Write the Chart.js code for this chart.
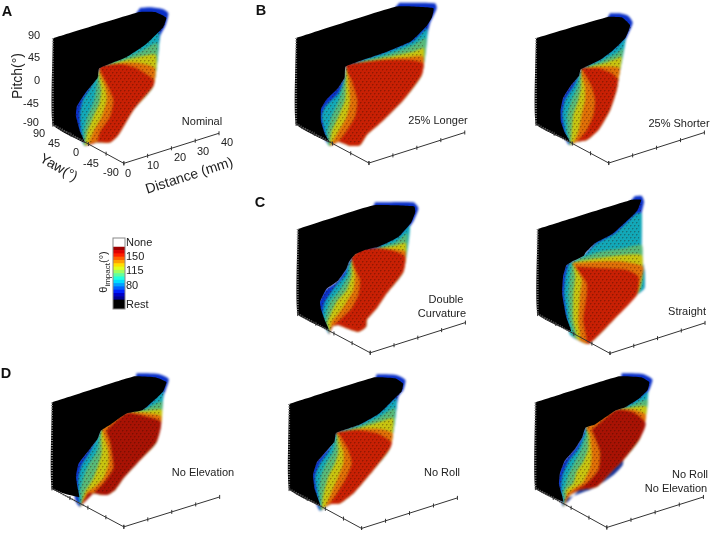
<!DOCTYPE html>
<html>
<head>
<meta charset="utf-8">
<title>Impact angle maps</title>
<script src="https://cdn.jsdelivr.net/npm/chart.js@4"></script>
<style>
  html, body { margin: 0; padding: 0; background: #fff; }
  #page { position: relative; width: 711px; height: 535px; overflow: hidden; font-family: "Liberation Sans", Arial, sans-serif; color: #222; }
  #page canvas { position: absolute; }
  #page canvas.bands { filter: blur(1.3px); }
  #page canvas.wall { filter: blur(0.35px); }
  .label { position: absolute; white-space: nowrap; font-size: 11px; line-height: 1; transform: translate(-50%, -50%); }
  .letter { font-size: 14.5px; font-weight: bold; color: #111; }
  .title { font-size: 14px; }
  .label sub { font-size: 8px; line-height: 0; }
</style>
</head>
<body>
<div id="page"></div>
<script>
// tick values of the 3D axes
const pitchTicks = [90, 45, 0, -45, -90];
const yawTicks = [90, 45, 0, -45, -90];
const distanceTicks = [0, 10, 20, 30, 40];

// colour bar
const colorbarColors = ["#00008f", "#0000c8", "#0020ff", "#0060ff", "#00a0ff", "#00dfff", "#20ffdf", "#60ff9f", "#9fff60", "#dfff20", "#ffdf00", "#ff9f00", "#ff6000", "#ff2000", "#df0000", "#9f0000"];
const colorbarSpan = 8;
const colorbarTicks = [34, 80, 115, 150, 184];
const colorbarLabels = ["Rest", "80", "115", "150", "None"];

// band colours, outermost first: blue, cyan, green, yellow, orange, red
const bandColors = ["#0a30c8", "#12a8b8", "#58b878", "#c8c410", "#e07008", "#c82004"];

// Outlines in crop units (3 units = 1 page pixel).
// corners: pitch top, pitch bottom, yaw end, distance end
const nominalCorners = [[150, 105], [150, 378], [372, 500], [670, 405]];
const nominalBlack = [[150, 105], [420, 22], [470, 22], [505, 40], [495, 70], [440, 125], [380, 165], [295, 200], [290, 230], [250, 280], [225, 320], [222, 350], [235, 400], [250, 435], [150, 378], [150, 105]];
const nominalRim = [[460, 258], [400, 330], [355, 405], [330, 427], [285, 427], [255, 437]];
const nominalTops = [
  [[420, 24], [450, 22], [490, 28], [505, 40], [497, 75], [480, 110]],
  [[300, 200], [360, 172], [440, 122], [478, 95]],
  [[300, 200], [365, 178], [420, 155], [472, 130]],
  [[300, 200], [370, 182], [420, 170], [468, 165]],
  [[300, 200], [370, 188], [420, 190], [465, 205]],
  [[298, 198], [360, 192], [410, 205], [462, 240]]
];
const nominalLefts = [
  [[235, 400], [222, 350], [225, 320], [250, 280], [290, 230], [295, 200]],
  [[250, 430], [242, 390], [240, 340], [248, 300], [270, 265], [292, 220]],
  [[250, 432], [252, 395], [262, 350], [280, 310], [288, 270], [293, 225]],
  [[256, 432], [262, 395], [280, 350], [298, 310], [303, 270], [295, 220]],
  [[265, 432], [280, 395], [305, 350], [320, 300], [315, 260], [296, 215]],
  [[290, 427], [300, 395], [330, 350], [340, 300], [320, 250], [303, 215]]
];

const longerCorners = [[160, 105], [160, 378], [388, 502], [688, 405]];
const longerBlack = [[160, 105], [475, 5], [590, 10], [585, 40], [570, 65], [520, 115], [440, 150], [315, 195], [312, 230], [290, 265], [255, 300], [238, 330], [238, 370], [250, 410], [265, 437], [160, 378], [160, 105]];
const longerRim = [[545, 225], [490, 300], [420, 370], [380, 405], [360, 435], [330, 437], [295, 425], [270, 437]];
const longerTops = [
  [[478, 8], [585, 10], [590, 25], [570, 70], [555, 140]],
  [[318, 195], [440, 155], [520, 122], [562, 85]],
  [[318, 195], [440, 165], [520, 135], [558, 115]],
  [[318, 195], [440, 172], [520, 155], [552, 145]],
  [[318, 195], [430, 178], [500, 172], [550, 170]],
  [[318, 193], [430, 180], [510, 180], [550, 190]]
];
const longerLefts = [
  [[250, 410], [237, 370], [237, 330], [255, 295], [290, 262], [312, 230], [315, 195]],
  [[265, 435], [255, 400], [245, 350], [255, 320], [295, 280], [313, 235]],
  [[265, 435], [262, 395], [275, 350], [297, 300], [313, 240]],
  [[270, 433], [275, 395], [295, 350], [315, 300], [318, 240]],
  [[275, 430], [295, 395], [320, 350], [330, 300], [325, 240]],
  [[295, 425], [315, 400], [345, 350], [352, 300], [335, 240], [322, 215]]
];

const shorterCorners = [[160, 105], [160, 378], [388, 502], [688, 405]];
const shorterBlack = [[160, 105], [385, 38], [430, 40], [455, 65], [440, 105], [400, 145], [360, 175], [300, 205], [295, 225], [270, 255], [245, 295], [237, 335], [238, 370], [250, 405], [265, 433], [160, 378], [160, 105]];
const shorterRim = [[415, 240], [410, 270], [390, 330], [355, 390], [320, 420], [290, 425], [268, 435]];
const shorterTops = [
  [[390, 40], [420, 40], [445, 48], [458, 68], [443, 105], [435, 125]],
  [[303, 205], [360, 178], [405, 145], [437, 115]],
  [[303, 205], [360, 185], [410, 160], [430, 145]],
  [[303, 205], [365, 192], [405, 178], [425, 170]],
  [[303, 205], [360, 200], [400, 200], [420, 205]],
  [[303, 203], [355, 205], [395, 220], [416, 240]]
];
const shorterLefts = [
  [[250, 405], [237, 370], [237, 335], [245, 295], [270, 255], [295, 225], [300, 205]],
  [[268, 433], [255, 395], [247, 345], [255, 300], [280, 260], [297, 225]],
  [[270, 432], [262, 395], [262, 345], [275, 300], [292, 260], [300, 225]],
  [[272, 430], [275, 395], [280, 345], [295, 300], [303, 260], [303, 225]],
  [[280, 428], [295, 395], [305, 345], [315, 300], [315, 260], [305, 225]],
  [[290, 425], [320, 390], [340, 345], [345, 300], [335, 260], [312, 215]]
];

const doubleCorners = [[165, 140], [165, 410], [392, 533], [690, 437]];
const doubleBlack = [[165, 140], [400, 65], [530, 68], [533, 85], [520, 120], [480, 165], [420, 195], [380, 205], [345, 220], [325, 245], [318, 265], [290, 305], [255, 330], [235, 370], [238, 395], [250, 430], [262, 460], [165, 410], [165, 140]];
const doubleRim = [[490, 275], [440, 340], [410, 385], [380, 420], [378, 440], [355, 455], [320, 445], [295, 435], [275, 440], [268, 462]];
const doubleTops = [
  [[405, 67], [520, 67], [535, 85], [522, 120], [505, 150]],
  [[345, 218], [420, 197], [480, 165], [510, 135]],
  [[345, 218], [420, 202], [470, 185], [502, 160]],
  [[340, 222], [410, 205], [460, 198], [498, 190]],
  [[335, 228], [410, 205], [460, 208], [497, 215]],
  [[335, 230], [365, 208], [410, 205], [460, 212], [495, 230]]
];
const doubleLefts = [
  [[250, 430], [235, 395], [235, 370], [255, 330], [290, 305], [318, 265], [325, 245], [345, 220]],
  [[268, 460], [248, 430], [248, 395], [255, 365], [285, 320], [315, 285], [325, 255]],
  [[268, 460], [255, 430], [260, 395], [270, 365], [300, 330], [325, 285], [330, 250]],
  [[270, 460], [262, 430], [275, 395], [290, 365], [320, 330], [335, 285], [335, 245]],
  [[272, 445], [275, 425], [300, 395], [320, 365], [340, 330], [345, 285], [335, 245]],
  [[280, 437], [310, 410], [335, 385], [355, 345], [360, 300], [345, 265], [335, 232]]
];

const straightCorners = [[165, 140], [165, 410], [392, 535], [690, 438]];
const straightBlack = [[165, 140], [460, 47], [490, 47], [478, 80], [460, 100], [400, 155], [345, 185], [315, 215], [310, 225], [270, 245], [255, 255], [245, 290], [242, 345], [255, 420], [270, 465], [165, 410], [165, 140]];
const straightRim = [[470, 345], [400, 420], [330, 490], [315, 490], [275, 468]];
const straightTops = [
  [[465, 48], [485, 48], [492, 65], [485, 100], [485, 230], [493, 270], [493, 325]],
  [[320, 220], [350, 190], [405, 160], [470, 100], [485, 100], [485, 230], [493, 270], [493, 325]],
  [[300, 235], [360, 215], [430, 205], [485, 195], [488, 240], [490, 290], [480, 330]],
  [[275, 248], [350, 235], [430, 225], [485, 225], [488, 270], [482, 320]],
  [[275, 250], [350, 245], [430, 245], [490, 260], [480, 310]],
  [[285, 260], [370, 265], [440, 270], [475, 290]]
];
const straightLefts = [
  [[255, 420], [242, 345], [245, 290], [255, 255], [270, 245], [310, 225], [345, 185]],
  [[270, 465], [262, 420], [252, 345], [256, 290], [265, 252]],
  [[280, 470], [270, 420], [265, 345], [270, 290], [275, 250]],
  [[290, 475], [280, 420], [280, 345], [285, 290], [280, 255]],
  [[300, 480], [295, 420], [300, 345], [305, 300], [285, 258]],
  [[320, 490], [310, 420], [320, 345], [320, 310], [295, 270]]
];

const noElevationCorners = [[147, 135], [147, 408], [372, 530], [672, 435]];
const noElevationBlack = [[147, 135], [405, 52], [470, 55], [505, 70], [495, 100], [470, 125], [430, 160], [380, 170], [330, 205], [300, 225], [290, 250], [260, 290], [230, 330], [222, 370], [228, 410], [232, 435], [147, 408], [147, 135]];
const noElevationRim = [[470, 260], [420, 315], [370, 370], [345, 405], [320, 420], [280, 415], [265, 415], [250, 440], [240, 455]];
const noElevationTops = [
  [[410, 55], [475, 57], [506, 72], [497, 105], [490, 125]],
  [[305, 215], [380, 170], [435, 158], [470, 125], [491, 108]],
  [[305, 218], [380, 172], [440, 160], [487, 140]],
  [[305, 220], [380, 172], [440, 168], [486, 165]],
  [[305, 222], [380, 172], [440, 175], [484, 185]],
  [[320, 225], [380, 175], [440, 185], [483, 200]]
];
const noElevationLefts = [
  [[228, 440], [222, 410], [220, 370], [228, 330], [260, 288], [290, 250], [300, 222], [330, 203], [380, 168]],
  [[240, 452], [235, 425], [235, 370], [245, 330], [270, 290], [297, 235]],
  [[245, 440], [240, 415], [250, 370], [265, 330], [290, 290], [300, 235]],
  [[250, 425], [255, 410], [280, 370], [295, 330], [305, 290], [303, 235]],
  [[262, 410], [285, 395], [310, 370], [325, 330], [325, 290], [310, 235]],
  [[280, 415], [310, 385], [340, 340], [335, 290], [330, 260], [320, 230]]
];

const noRollCorners = [[138, 140], [138, 410], [365, 535], [665, 438]];
const noRollBlack = [[138, 140], [405, 55], [470, 58], [495, 75], [490, 100], [460, 130], [420, 170], [360, 205], [285, 232], [280, 260], [250, 295], [225, 325], [213, 365], [218, 410], [235, 463], [138, 410], [138, 140]];
const noRollRim = [[450, 280], [400, 345], [340, 415], [300, 445], [270, 448], [240, 467]];
const noRollTops = [
  [[410, 58], [468, 60], [496, 75], [490, 105], [475, 125]],
  [[288, 232], [360, 207], [420, 172], [470, 130]],
  [[288, 232], [360, 212], [420, 185], [465, 160]],
  [[288, 232], [360, 218], [420, 200], [460, 190]],
  [[288, 232], [360, 222], [420, 222], [458, 235]],
  [[290, 232], [350, 225], [410, 235], [455, 262]]
];
const noRollLefts = [
  [[218, 410], [212, 365], [225, 325], [250, 295], [280, 260], [285, 232], [360, 205]],
  [[240, 465], [230, 410], [225, 365], [240, 325], [265, 290], [285, 245]],
  [[243, 465], [238, 410], [243, 365], [258, 325], [280, 290], [288, 245]],
  [[245, 462], [250, 420], [265, 365], [285, 325], [295, 290], [292, 245]],
  [[255, 455], [275, 410], [295, 365], [310, 325], [310, 290], [295, 245]],
  [[270, 445], [300, 400], [320, 365], [335, 325], [325, 285], [300, 240]]
];

const noBothCorners = [[158, 135], [158, 407], [382, 532], [685, 435]];
const noBothBlack = [[158, 135], [420, 52], [490, 55], [515, 70], [510, 95], [480, 125], [440, 150], [410, 160], [345, 205], [315, 215], [305, 245], [280, 285], [250, 320], [235, 360], [232, 395], [240, 425], [245, 450], [158, 407], [158, 135]];
const noBothRim = [[480, 250], [430, 315], [395, 350], [350, 395], [300, 405], [270, 420], [260, 435], [250, 455]];
const noBothFringe = [[430, 310], [428, 330], [400, 360], [340, 400], [300, 415], [265, 430], [258, 445], [300, 405], [350, 395], [395, 350]];
const noBothTops = [
  [[425, 55], [488, 57], [517, 73], [510, 100], [503, 115]],
  [[318, 213], [345, 205], [410, 160], [440, 152], [480, 128], [505, 110]],
  [[318, 213], [410, 162], [445, 155], [503, 135]],
  [[318, 215], [410, 162], [450, 158], [500, 155]],
  [[318, 218], [410, 163], [455, 163], [498, 180]],
  [[335, 225], [410, 165], [460, 172], [497, 205]]
];
const noBothLefts = [
  [[240, 425], [232, 395], [235, 360], [250, 320], [280, 285], [305, 245], [315, 215], [345, 205], [410, 160]],
  [[250, 455], [245, 425], [243, 395], [248, 360], [265, 320], [295, 280], [312, 240]],
  [[255, 440], [248, 415], [255, 395], [265, 360], [285, 320], [305, 280], [318, 240]],
  [[258, 425], [258, 405], [280, 385], [290, 350], [310, 320], [325, 280], [325, 240]],
  [[262, 415], [290, 395], [310, 380], [330, 340], [335, 300], [330, 240]],
  [[275, 415], [320, 385], [355, 345], [360, 290], [340, 235]]
];

const page = document.getElementById("page");

function addCanvas(left, top, width, height, className) {
  const canvas = document.createElement("canvas");
  canvas.width = width;
  canvas.height = height;
  canvas.className = className || "";
  canvas.style.left = left + "px";
  canvas.style.top = top + "px";
  canvas.style.width = width + "px";
  canvas.style.height = height + "px";
  page.appendChild(canvas);
  return canvas;
}

function addLabel(text, x, y, className, angle) {
  const label = document.createElement("div");
  label.className = "label " + (className || "");
  label.innerHTML = text;
  label.style.left = x + "px";
  label.style.top = y + "px";
  if (angle) {
    label.style.transform = "translate(-50%, -50%) rotate(" + angle + "deg)";
  }
  page.appendChild(label);
}

function toPoints(list) {
  return list.map((pair) => ({ x: pair[0], y: pair[1] }));
}

function shape(list, color, tension) {
  return {
    data: toPoints(list),
    showLine: true,
    fill: "shape",
    backgroundColor: color,
    borderWidth: 0,
    tension: tension,
    pointRadius: 0,
  };
}

function stroke(list, color, dash) {
  return {
    data: toPoints(list),
    showLine: true,
    fill: false,
    borderColor: color,
    borderWidth: dash ? 2 : 1,
    borderDash: dash || [],
    pointRadius: 0,
  };
}

function lerp(a, b, t) {
  return [a[0] + (b[0] - a[0]) * t, a[1] + (b[1] - a[1]) * t];
}

function tickMarks(from, to, count, rotation) {
  const marks = [];
  for (let i = 0; i < count; i++) {
    marks.push(lerp(from, to, i / (count - 1)));
  }
  return {
    data: toPoints(marks),
    showLine: false,
    pointStyle: "line",
    pointRadius: 2,
    pointRotation: rotation,
    pointBorderColor: "#333",
    pointBorderWidth: 1,
  };
}

function dotPattern() {
  const tile = document.createElement("canvas");
  tile.width = 4;
  tile.height = 6;
  const ctx = tile.getContext("2d");
  ctx.fillStyle = "rgba(40,10,0,0.34)";
  ctx.fillRect(0, 0, 1, 1);
  ctx.fillRect(2, 3, 1, 1);
  ctx.fillStyle = "rgba(40,10,0,0.16)";
  ctx.fillRect(1, 0, 1, 1);
  ctx.fillRect(3, 3, 1, 1);
  ctx.fillRect(0, 1, 1, 1);
  ctx.fillRect(2, 4, 1, 1);
  return ctx.createPattern(tile, "repeat");
}

const dots = dotPattern();

function panelChart(canvas, width, height, datasets) {
  // first in the list is painted first
  datasets.forEach((set, i) => {
    set.order = datasets.length - i;
  });

  return new Chart(canvas, {
    type: "scatter",
    data: { datasets: datasets },
    options: {
      responsive: false,
      animation: false,
      events: [],
      layout: { padding: 0 },
      plugins: { legend: { display: false }, tooltip: { enabled: false } },
      scales: {
        x: { type: "linear", display: false, min: 0, max: width * 3 },
        y: { type: "linear", display: false, min: 0, max: height * 3, reverse: true },
      },
    },
  });
}

function createPanel(left, top, width, height, corners, black, rim, tops, lefts, red, fringe) {
  const bands = [];
  const colors = bandColors.slice();
  if (red) {
    colors[5] = red;
  }

  if (fringe) {
    bands.push(shape(fringe, "#10309a", 0.2));
  }

  tops.forEach((topEdge, i) => {
    bands.push(shape(topEdge.concat(rim, lefts[i]), colors[i], 0.2));
  });

  panelChart(addCanvas(left, top, width, height, "bands"), width, height, bands);

  const wall = [];
  wall.push(shape(tops[0].concat(rim, lefts[0]), dots, 0.2));
  wall.push(shape(black, "#000", 0.12));
  wall.push(stroke([corners[0], corners[1]], "#888", [1, 1.5]));
  wall.push(stroke([corners[1], lerp(corners[1], corners[2], 0.45)], "#888", [1, 1.5]));
  wall.push(stroke([corners[1], corners[2], corners[3]], "#333"));
  wall.push(tickMarks(corners[1], corners[2], yawTicks.length, 90));
  wall.push(tickMarks(corners[2], corners[3], distanceTicks.length, 90));

  panelChart(addCanvas(left, top, width, height, "wall"), width, height, wall);
}

function createColorbar() {
  const datasets = [{ data: [46], backgroundColor: "#000" }];
  colorbarColors.forEach((color) => {
    datasets.push({ data: [colorbarSpan], backgroundColor: color });
  });
  datasets.push({ data: [22], backgroundColor: "#fff" });
  datasets.forEach((set) => {
    set.barPercentage = 1;
    set.categoryPercentage = 1;
  });

  const frame = {
    id: "frame",
    afterDraw(chart) {
      const area = chart.chartArea;
      chart.ctx.strokeStyle = "#888";
      chart.ctx.lineWidth = 1;
      chart.ctx.strokeRect(area.left, area.top, area.width, area.height);
    },
  };

  return new Chart(addCanvas(112, 230, 46, 87), {
    type: "bar",
    data: { labels: ["theta"], datasets: datasets },
    plugins: [frame],
    options: {
      responsive: false,
      animation: false,
      events: [],
      layout: { padding: { top: 8, bottom: 8, left: 1, right: 0 } },
      plugins: { legend: { display: false }, tooltip: { enabled: false } },
      scales: {
        x: { stacked: true, display: false },
        y: {
          stacked: true,
          position: "right",
          min: 24,
          max: 196,
          grid: { display: false, drawTicks: false },
          border: { display: false },
          afterBuildTicks(scale) {
            scale.ticks = colorbarTicks.map((value) => ({ value: value }));
          },
          afterFit(scale) {
            scale.width = 33;
          },
          ticks: {
            autoSkip: false,
            padding: 1,
            color: "#222",
            font: { family: "Liberation Sans", size: 11 },
            callback(value, index) {
              return colorbarLabels[index];
            },
          },
        },
      },
    },
  });
}

createPanel(0, 0, 240, 200, nominalCorners, nominalBlack, nominalRim, nominalTops, nominalLefts);
createPanel(240, 0, 240, 180, longerCorners, longerBlack, longerRim, longerTops, longerLefts);
createPanel(480, 0, 231, 180, shorterCorners, shorterBlack, shorterRim, shorterTops, shorterLefts);
createPanel(240, 180, 240, 180, doubleCorners, doubleBlack, doubleRim, doubleTops, doubleLefts);
createPanel(480, 180, 231, 180, straightCorners, straightBlack, straightRim, straightTops, straightLefts);
createPanel(0, 355, 240, 180, noElevationCorners, noElevationBlack, noElevationRim, noElevationTops, noElevationLefts, "#a81204");
createPanel(240, 355, 240, 180, noRollCorners, noRollBlack, noRollRim, noRollTops, noRollLefts);
createPanel(480, 355, 231, 180, noBothCorners, noBothBlack, noBothRim, noBothTops, noBothLefts, "#a81204", noBothFringe);
createColorbar();

addLabel("A", 7, 11, "letter");
addLabel("B", 261, 10, "letter");
addLabel("C", 260, 202, "letter");
addLabel("D", 6, 373, "letter");

const pitchLabelY = [35, 57, 80, 103, 122];
const yawLabelX = [39, 54, 76, 91, 111];
const yawLabelY = [133, 143, 152, 163, 172];
const distanceLabelX = [128, 153, 180, 203, 227];
const distanceLabelY = [173, 165, 157, 151, 142];

pitchTicks.forEach((value, i) => {
  addLabel(String(value), 40 - String(value).length * 3, pitchLabelY[i]);
});
yawTicks.forEach((value, i) => {
  addLabel(String(value), yawLabelX[i], yawLabelY[i]);
});
distanceTicks.forEach((value, i) => {
  addLabel(String(value), distanceLabelX[i], distanceLabelY[i]);
});

addLabel("Pitch(°)", 17, 76, "title", -90);
addLabel("Yaw(°)", 59, 167, "title", 30);
addLabel("Distance (mm)", 189, 175, "title", -18);
addLabel("θ<sub>impact</sub>(°)", 103, 272, "", -90);

addLabel("Nominal", 202, 121);
addLabel("25% Longer", 438, 120);
addLabel("25% Shorter", 679, 123);
addLabel("Double", 446, 299);
addLabel("Curvature", 442, 313);
addLabel("Straight", 687, 311);
addLabel("No Elevation", 203, 472);
addLabel("No Roll", 442, 472);
addLabel("No Roll", 690, 474);
addLabel("No Elevation", 676, 488);
</script>
</body>
</html>
